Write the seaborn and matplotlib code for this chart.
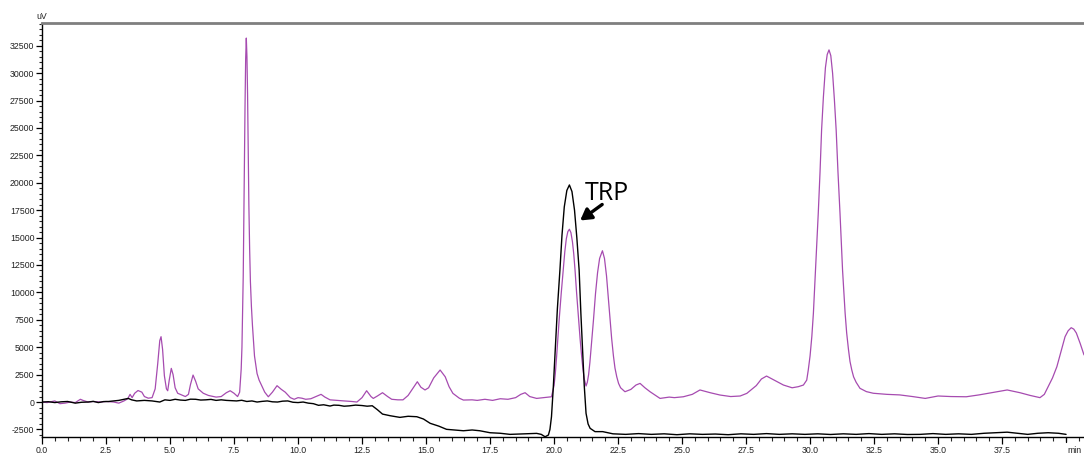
import matplotlib
matplotlib.use("Agg")
import matplotlib.pyplot as plt
import matplotlib.transforms as mtransforms
from matplotlib.ticker import MultipleLocator, AutoMinorLocator
import seaborn as sns
import pandas as pd

# Channel 2 (purple) chromatogram: retention time (min) and signal (uV)
purple_time = [
    0.0, 0.2, 0.5, 0.7, 0.9, 1.1, 1.3, 1.5, 1.6, 1.8, 2.0, 2.3, 2.5, 2.8, 3.0,
    3.2, 3.35, 3.44, 3.52, 3.62, 3.75, 3.9, 4.0, 4.15, 4.3, 4.42, 4.52, 4.6,
    4.65, 4.71, 4.78, 4.86, 4.91, 4.97, 5.05, 5.12, 5.2, 5.3, 5.45, 5.6, 5.72,
    5.8, 5.9, 6.0, 6.1, 6.3, 6.5, 6.8, 7.0, 7.2, 7.35, 7.5, 7.64, 7.72, 7.78,
    7.81, 7.83, 7.86, 7.88, 7.905, 7.93, 7.955, 7.98, 8.005, 8.03, 8.055,
    8.08, 8.11, 8.14, 8.18, 8.22, 8.30, 8.40, 8.48, 8.58,
    8.70, 8.84, 9.0, 9.18, 9.35, 9.5, 9.7, 9.85, 10.0, 10.15, 10.3, 10.5,
    10.7, 10.9, 11.05, 11.25, 11.5, 11.8, 12.1, 12.3, 12.5, 12.68, 12.85,
    12.94, 13.1, 13.3, 13.5, 13.66, 13.9, 14.1, 14.3, 14.5, 14.66, 14.8,
    14.96, 15.1, 15.3, 15.55, 15.75, 15.9, 16.05, 16.3, 16.46, 16.8, 17.0,
    17.3, 17.6, 17.9, 18.2, 18.5, 18.7, 18.87, 19.05, 19.32, 19.6, 19.9,
    20.0, 20.05, 20.1, 20.15, 20.2, 20.28, 20.36, 20.42, 20.48, 20.54, 20.6,
    20.66, 20.72, 20.77, 20.82, 20.88, 20.95, 21.02, 21.08, 21.13, 21.18,
    21.25, 21.3, 21.35, 21.4, 21.45, 21.5, 21.54, 21.62, 21.7, 21.78, 21.89,
    21.97, 22.05, 22.12, 22.19, 22.25, 22.32, 22.38, 22.45, 22.52,
    22.6, 22.77, 23.0, 23.2, 23.36, 23.55, 23.75, 24.14, 24.5, 24.7, 25.05,
    25.4, 25.7, 26.1, 26.48, 26.9, 27.27, 27.53, 27.9, 28.1, 28.3, 28.6,
    28.96, 29.3, 29.54, 29.74, 29.87, 29.93, 30.0, 30.07, 30.13, 30.2, 30.27,
    30.32, 30.39, 30.45, 30.52, 30.6, 30.67, 30.74, 30.81, 30.88, 30.95,
    31.02, 31.09, 31.17, 31.22, 31.27, 31.32, 31.37, 31.43, 31.5, 31.56,
    31.63, 31.7, 31.8, 31.95, 32.2, 32.47, 33.0, 33.5, 34.0, 34.5, 35.0,
    35.5, 36.1, 36.6, 37.2, 37.7, 38.2, 38.6, 38.98, 39.15, 39.3, 39.47,
    39.64, 39.8, 39.96, 40.08, 40.2, 40.3, 40.4, 40.55, 40.7,
]
purple_signal = [
    0, -50, 100, -150, -100, 0, -50, 250, 150, 0, 50, 0, 50, 0, -100,
    100, 300, 700, 400, 800, 1050, 900, 500, 350, 400, 1200, 3500, 5600,
    5960, 4800, 2400, 1200, 1030, 2000, 3070, 2500, 1300, 800, 650, 500, 700,
    1600, 2460, 1900, 1200, 800, 600, 450, 500, 850, 1030, 800, 500, 900, 3000,
    5000, 7500, 11500, 16000, 21500, 27000, 31300, 33200, 31500, 28000, 23000,
    18000, 14000, 11000, 8700, 7000, 4200, 2600, 2000, 1500,
    900, 480, 900, 1490, 1150, 900, 400, 250, 400, 350, 250, 300,
    500, 700, 450, 200, 150, 100, 50, 0, 400, 1030, 500,
    330, 550, 850, 500, 250, 200, 200, 600, 1300, 1850, 1350,
    1100, 1300, 2200, 2920, 2300, 1400, 790, 350, 180, 200, 150,
    250, 150, 300, 250, 400, 700, 850, 500, 330, 400, 480,
    1500, 2600, 4130, 5800, 7500, 9900, 12040, 13700, 14900, 15550, 15760,
    15450, 14600, 13500, 12040, 10000, 7800, 5700, 4130, 3000, 2100,
    1460, 1800, 2500, 3600, 5000, 6300, 7480, 9900, 11800, 13100, 13800,
    13100, 11500, 9500, 7480, 5800, 4200, 3100, 2300, 1700,
    1300, 940, 1150, 1550, 1700, 1300, 940, 330, 450, 400, 480,
    700, 1100, 850, 640, 500, 550, 790, 1500, 2100, 2370, 2000,
    1550, 1300, 1400, 1550, 2000, 2920, 4200, 6000, 8090, 11500, 15000,
    17200, 21000, 24800, 27800, 30500, 31700, 32120, 31600, 30000, 27600,
    24800, 21000, 17200, 14500, 12000, 10000, 8090, 6300, 4800, 3700,
    2920, 2300, 1800, 1250, 950, 800, 700, 650, 500, 330, 550,
    500, 480, 650, 900, 1100, 850, 600, 400, 700, 1400, 2200,
    3220, 4600, 5960, 6500, 6780, 6650, 6300, 5350, 4300,
]

# Channel 1 (black) chromatogram
black_time = [
    0.0, 0.25, 0.5, 0.75, 1.0, 1.3, 1.55, 1.8, 2.0, 2.2, 2.4, 2.6, 2.8, 3.0,
    3.2, 3.37, 3.5, 3.7, 4.0, 4.3, 4.6, 4.8, 5.0, 5.2, 5.4, 5.6, 5.8, 6.0,
    6.2, 6.4, 6.6, 6.8, 7.0, 7.2, 7.4, 7.6, 7.8, 8.0, 8.2, 8.4, 8.6, 8.8,
    9.0, 9.2, 9.4, 9.6, 9.8, 10.0, 10.2, 10.4, 10.6, 10.8, 11.0, 11.25,
    11.4, 11.6, 11.8, 12.0, 12.25, 12.5, 12.7, 12.9, 13.1, 13.3, 13.6, 13.98,
    14.3, 14.64, 14.9, 15.16, 15.5, 15.8, 16.1, 16.46, 16.8, 17.1, 17.5,
    17.9, 18.28, 18.8, 19.32, 19.5, 19.65, 19.78, 19.84, 19.9, 19.97, 20.04,
    20.13, 20.23, 20.31, 20.4, 20.5, 20.6, 20.7, 20.8, 20.89, 20.98, 21.05,
    21.12, 21.18, 21.25, 21.33, 21.41, 21.6, 21.9,
    22.3, 22.8, 23.3, 23.8, 24.3, 24.8, 25.3, 25.8, 26.3, 26.8, 27.3, 27.8,
    28.3, 28.8, 29.3, 29.8, 30.3, 30.8, 31.3, 31.8, 32.3, 32.8, 33.3, 33.8,
    34.3, 34.8, 35.3, 35.8, 36.3, 36.8, 37.3, 37.7, 38.1, 38.5, 38.9, 39.3,
    39.7, 40.0,
]
black_signal = [
    0, 30, -50, 20, 50, -100, -20, 0, 60, -50, 40, 50, 100, 150,
    250, 330, 200, 100, 150, 100, 0, 200, 150, 250, 180, 150, 260, 250,
    180, 200, 240, 150, 200, 150, 120, 100, 160, 50, 100, 0, 60, 100,
    20, 0, 80, 100, -20, -50, 0, -100, -150, -300, -250, -365,
    -280, -300, -380, -350, -280, -320, -380, -340, -700, -1100, -1250, -1400,
    -1300, -1340, -1550, -1940, -2200, -2490, -2550, -2620, -2550, -2620, -2800,
    -2850, -2950, -2900, -2860, -2950, -3170, -3010, -2500, -1340, 1300, 4440,
    8500, 12040, 15200, 17800, 19300, 19800, 19200, 17500, 15000, 12040, 8000,
    4440, 1500, -1030, -2000, -2400, -2700, -2700,
    -2900, -2950, -2880, -2950, -2900, -2980, -2900, -2950, -2920, -2980, -2900, -2950,
    -2880, -2950, -2900, -2950, -2900, -2960, -2900, -2950, -2880, -2950, -2900, -2960,
    -2950, -2880, -2950, -2900, -2950, -2850, -2800, -2750, -2850, -2950, -2850, -2800,
    -2850, -2950,
]

x_tick_values = [0.0, 2.5, 5.0, 7.5, 10.0, 12.5, 15.0, 17.5, 20.0, 22.5,
                 25.0, 27.5, 30.0, 32.5, 35.0, 37.5]
y_tick_values = list(range(-2500, 32501, 2500))

peak_label = "TRP"
peak_label_pos = (21.2, 18390)
peak_arrow_tip = (21.02, 16560)
peak_arrow_tail = (21.88, 18020)

purple_df = pd.DataFrame({"time": purple_time, "signal": purple_signal})
black_df = pd.DataFrame({"time": black_time, "signal": black_signal})

sns.set_style("ticks")
plt.rcParams["font.family"] = ["Liberation Sans", "DejaVu Sans"]

fig = plt.figure(figsize=(10.84, 4.55), dpi=100)
ax = fig.add_axes([42 / 1084, 1 - 437 / 455, 1 - 42 / 1084, (437 - 22.5) / 455])

sns.lineplot(data=purple_df, x="time", y="signal", ax=ax, color="#a64bb0",
             linewidth=0.9, estimator=None, sort=False)
sns.lineplot(data=black_df, x="time", y="signal", ax=ax, color="black",
             linewidth=1.0, estimator=None, sort=False)

ax.set_xlim(0, 40.7)
ax.set_ylim(-3190, 34620)
ax.set_xlabel("")
ax.set_ylabel("")

ax.set_xticks(x_tick_values)
ax.set_xticklabels([f"{v:.1f}" for v in x_tick_values])
ax.set_yticks(y_tick_values)
ax.set_yticklabels([str(v) for v in y_tick_values])
ax.xaxis.set_minor_locator(MultipleLocator(0.5))
ax.yaxis.set_minor_locator(AutoMinorLocator(5))

ax.tick_params(axis="both", which="major", labelsize=6.3, color="black",
               width=0.9, pad=1.5, labelcolor="#222222")
ax.tick_params(axis="x", which="major", length=5)
ax.tick_params(axis="x", which="minor", length=3, width=0.8)
ax.tick_params(axis="y", which="major", length=4)
ax.tick_params(axis="y", which="minor", length=2, width=0.8)

for side in ("left", "bottom"):
    ax.spines[side].set_color("black")
    ax.spines[side].set_linewidth(1.0)
ax.spines["top"].set_visible(True)
ax.spines["top"].set_color("#7f7f7f")
ax.spines["top"].set_linewidth(2.0)
ax.spines["right"].set_visible(False)

# Axis unit labels
ax.text(0.0, 1.004, "uV", transform=ax.transAxes, ha="center", va="bottom",
        fontsize=6.3, color="#222222")
trans = mtransforms.blended_transform_factory(ax.transData, ax.transAxes)
ax.plot([40.0, 40.0], [0, -0.012], transform=trans, color="black", lw=0.9,
        clip_on=False)
ax.text(40.05, -0.022, "min", transform=trans, ha="left", va="top",
        fontsize=6.3, color="#222222")

# Peak annotation
ax.text(*peak_label_pos, peak_label, fontsize=18, color="black",
        family=["Open Sans", "DejaVu Sans"], ha="left", va="baseline")
ax.annotate("", xy=peak_arrow_tip, xytext=peak_arrow_tail,
            arrowprops=dict(arrowstyle="-|>,head_length=0.65,head_width=0.38",
                            color="black", lw=2.4, shrinkA=0, shrinkB=0))

fig.savefig("out.png", dpi=100)
